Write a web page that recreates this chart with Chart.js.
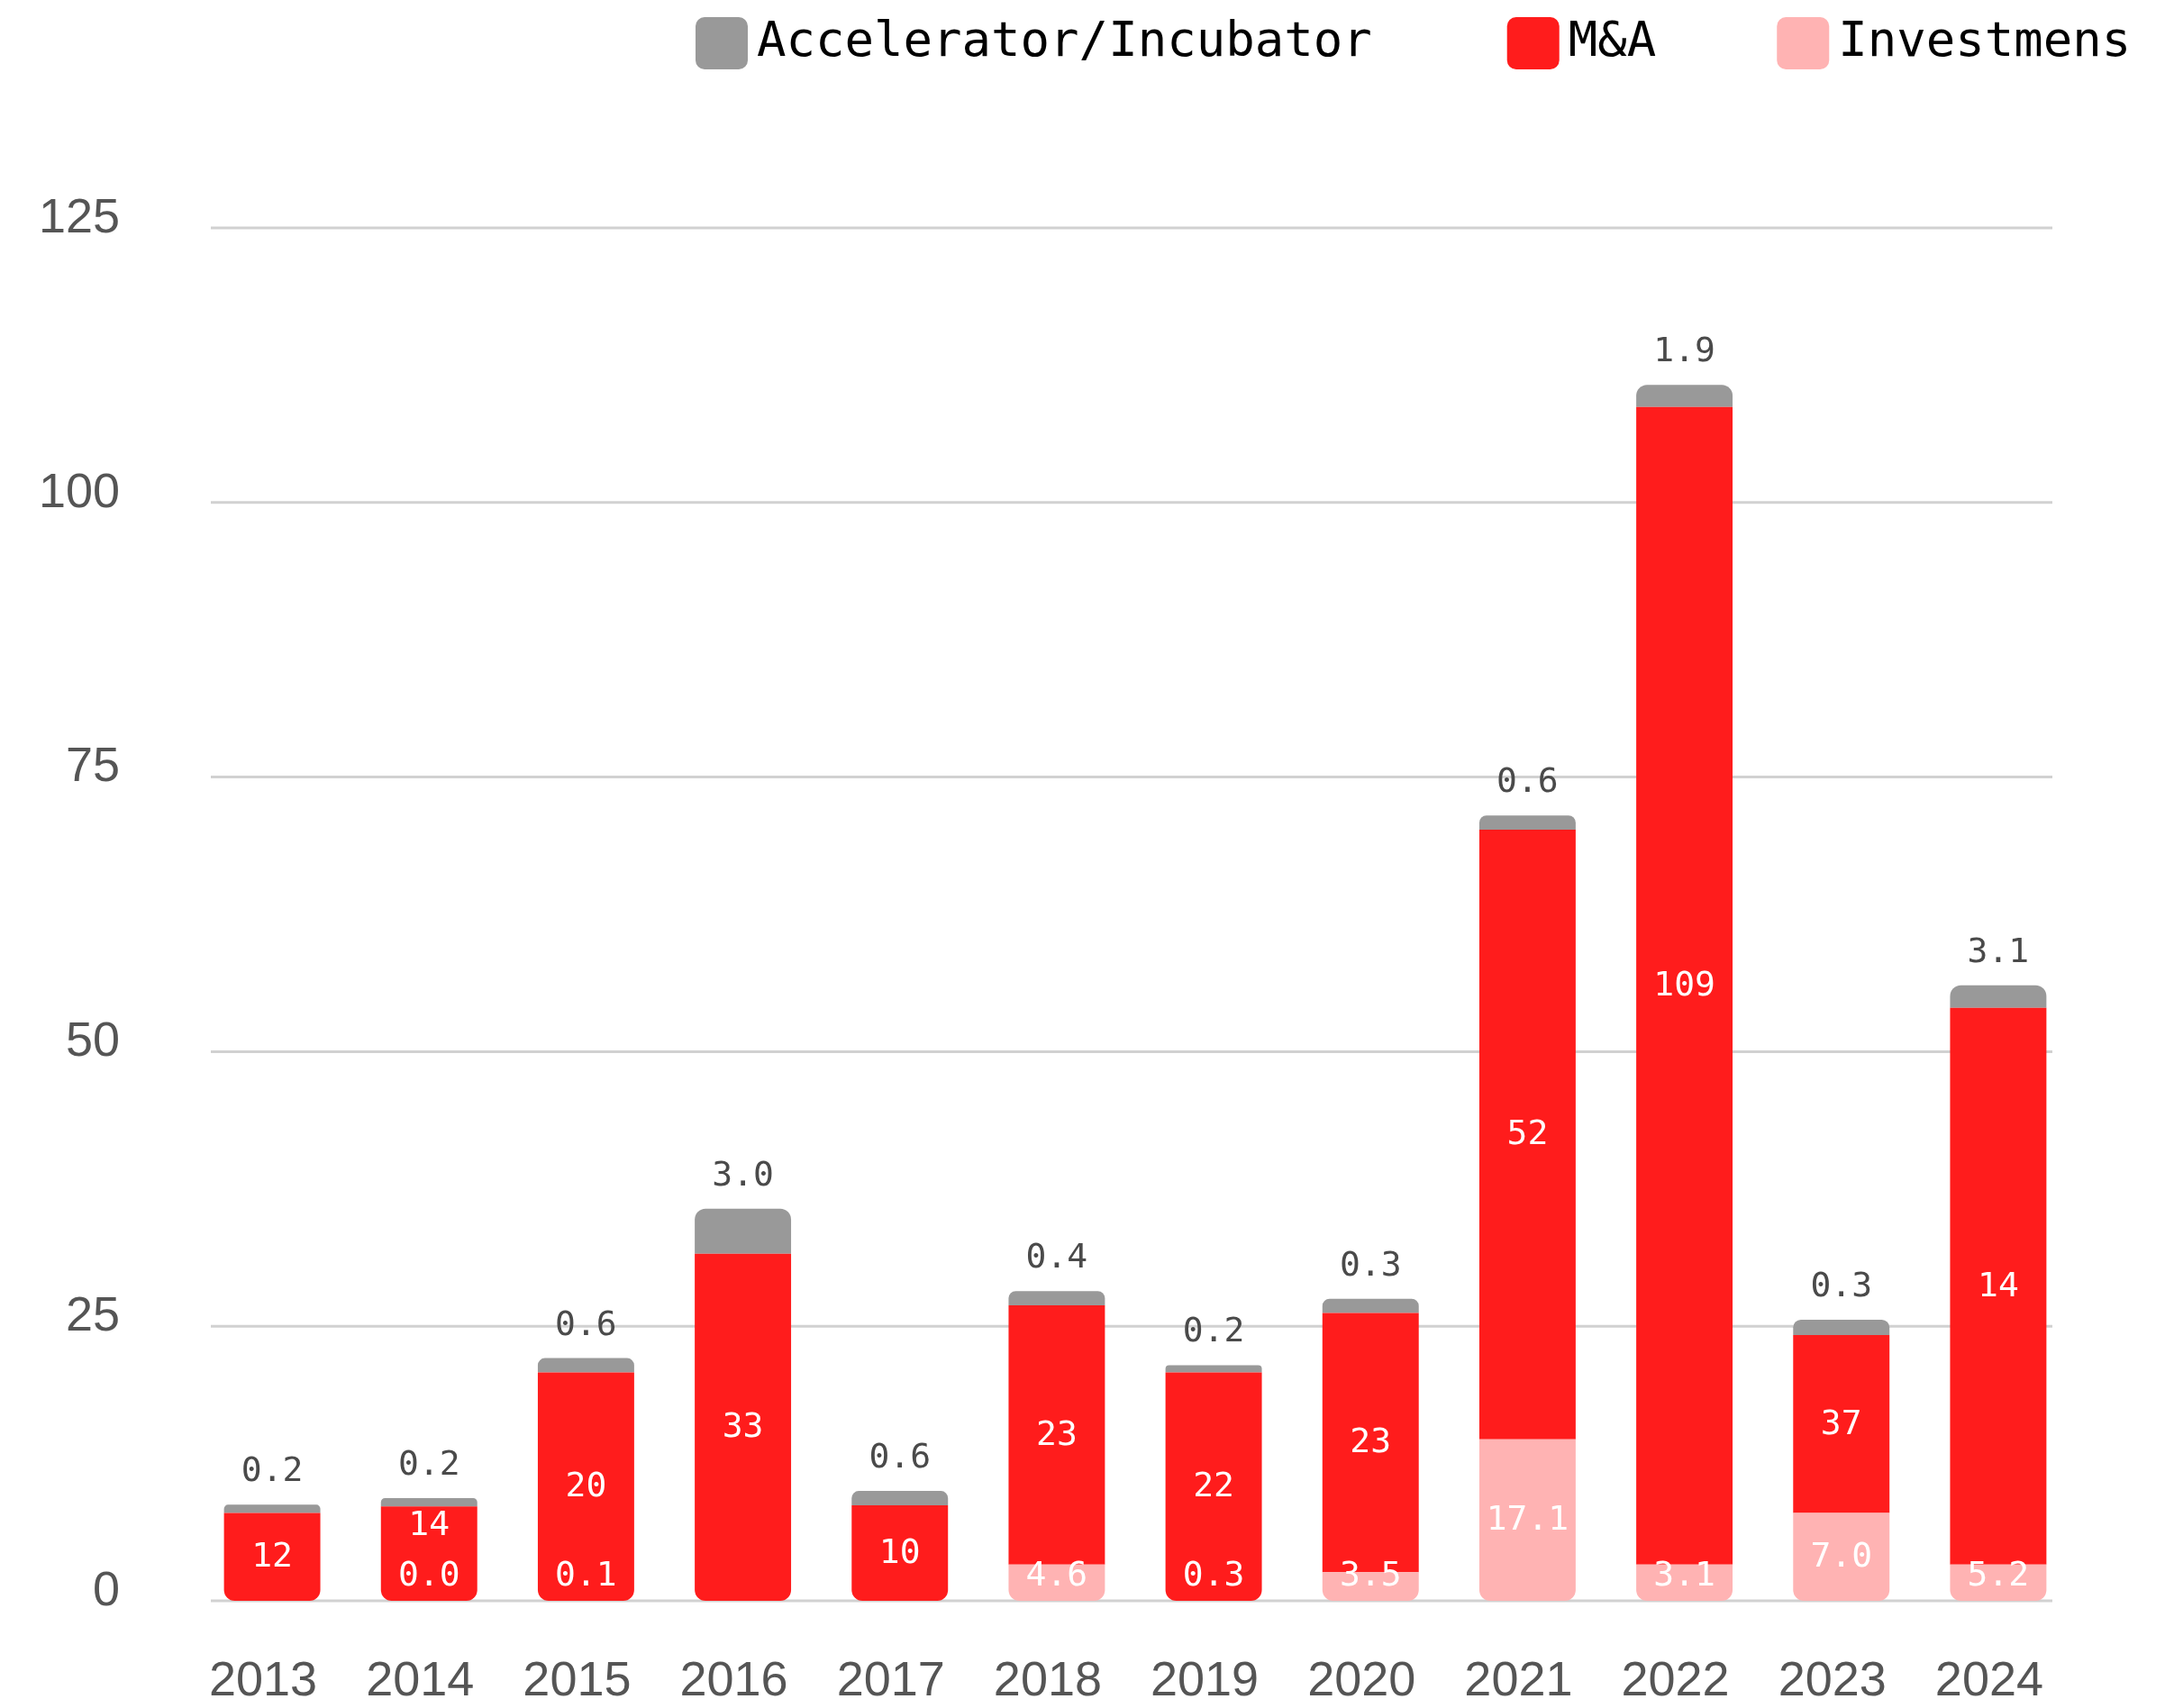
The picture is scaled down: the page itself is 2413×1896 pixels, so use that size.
<!DOCTYPE html>
<html>
<head>
<meta charset="utf-8">
<script src="https://cdn.jsdelivr.net/npm/chart.js@4.4.1/dist/chart.umd.min.js"></script>
<style>
  html, body { margin: 0; padding: 0; background: #ffffff; }
  #wrap { position: relative; width: 2413px; height: 1896px; }
</style>
</head>
<body>
<div id="wrap"><canvas id="chart"></canvas></div>
<script>
// Years on the category axis
const years = ['2013', '2014', '2015', '2016', '2017', '2018', '2019', '2020', '2021', '2022', '2023', '2024'];

// Segment heights, stacked bottom to top
const investments = [0, 0, 0, 0, 0, 3.3, 0, 2.6, 14.7, 3.3, 8.0, 3.3];
const mergers = [8.0, 8.6, 20.8, 31.6, 8.7, 23.6, 20.8, 23.6, 55.5, 105.4, 16.2, 50.7];
const accelerator = [0.75, 0.75, 1.3, 4.1, 1.3, 1.3, 0.65, 1.3, 1.3, 2.0, 1.4, 2.05];

// Figures printed on each segment
const investmentLabels = ['', '0.0', '0.1', '', '', '4.6', '0.3', '3.5', '17.1', '3.1', '7.0', '5.2'];
const mergerLabels = ['12', '14', '20', '33', '10', '23', '22', '23', '52', '109', '37', '14'];
const acceleratorLabels = ['0.2', '0.2', '0.6', '3.0', '0.6', '0.4', '0.2', '0.3', '0.6', '1.9', '0.3', '3.1'];

// Value axis
const yMin = 0;
const yMax = 125;
const yStep = 25;

const COLORS = {
  investments: '#ffb3b3',
  mergers: '#ff1c1c',
  accelerator: '#999999',
  grid: '#d1d1d1',
  tick: '#555555',
  topLabel: '#4a4a4a'
};
const MONO = '"DejaVu Sans Mono", "Liberation Mono", monospace';
const SANS = '"Liberation Sans", Arial, sans-serif';
const RADIUS = 12;

// Horizontal grid lines, slightly inset from the plot edges
const insetGrid = {
  id: 'insetGrid',
  beforeDatasetsDraw(chart) {
    const { ctx, chartArea, scales } = chart;
    const y = scales.y;
    ctx.save();
    ctx.strokeStyle = COLORS.grid;
    ctx.lineWidth = 3;
    y.ticks.forEach(t => {
      const py = y.getPixelForValue(t.value);
      ctx.beginPath();
      ctx.moveTo(chartArea.left + 19, py);
      ctx.lineTo(chartArea.right - 27, py);
      ctx.stroke();
    });
    ctx.restore();
  }
};

// Segment figures: white inside the lower two segments, grey above the stack
const segmentLabels = {
  id: 'segmentLabels',
  afterDatasetsDraw(chart) {
    const { ctx } = chart;
    ctx.save();
    ctx.font = '38px ' + MONO;
    ctx.textAlign = 'center';
    ctx.textBaseline = 'alphabetic';
    const capHalf = 11;
    const minGap = 56;
    const lower = chart.getDatasetMeta(0);
    const middle = chart.getDatasetMeta(1);
    const upper = chart.getDatasetMeta(2);
    ctx.fillStyle = '#ffffff';
    lower.data.forEach((bar, i) => {
      const { x, y, base } = bar.getProps(['x', 'y', 'base'], true);
      const lowCy = Math.min((y + base) / 2, base - 28);
      if (investmentLabels[i]) ctx.fillText(investmentLabels[i], x, lowCy + capHalf);
      const mid = middle.data[i].getProps(['x', 'y', 'base'], true);
      let midCy = (mid.y + mid.base) / 2;
      if (investmentLabels[i]) midCy = Math.min(midCy, lowCy - minGap);
      if (mergerLabels[i]) ctx.fillText(mergerLabels[i], mid.x, midCy + capHalf);
    });
    ctx.fillStyle = COLORS.topLabel;
    upper.data.forEach((bar, i) => {
      const text = acceleratorLabels[i];
      if (!text) return;
      const { x, y } = bar.getProps(['x', 'y'], true);
      ctx.fillText(text, x, y - 26);
    });
    ctx.restore();
  }
};

// Legend row across the top, listed from the top segment down
const topLegend = {
  id: 'topLegend',
  afterDraw(chart) {
    const { ctx } = chart;
    const box = 58;
    const textGap = 10;
    const itemGaps = [150, 134];
    let x = 772;
    const boxTop = 19;
    const baseline = 62;
    ctx.save();
    ctx.font = '54px ' + MONO;
    ctx.textAlign = 'left';
    ctx.textBaseline = 'alphabetic';
    [2, 1, 0].forEach((di, k) => {
      const ds = chart.data.datasets[di];
      ctx.fillStyle = ds.legendColor;
      ctx.beginPath();
      ctx.roundRect(x, boxTop, box, box, 10);
      ctx.fill();
      ctx.fillStyle = '#000000';
      const tx = x + box + textGap;
      ctx.fillText(ds.label, tx, baseline);
      x = tx + ctx.measureText(ds.label).width + (itemGaps[k] || 0);
    });
    ctx.restore();
  }
};

const bottomRound = { topLeft: 0, topRight: 0, bottomLeft: RADIUS, bottomRight: RADIUS };
const topRound = { topLeft: RADIUS, topRight: RADIUS, bottomLeft: 0, bottomRight: 0 };

new Chart(document.getElementById('chart'), {
  type: 'bar',
  data: {
    labels: years,
    datasets: [
      {
        label: 'Investmens',
        data: investments,
        legendColor: COLORS.investments,
        backgroundColor: c => investments[c.dataIndex] > 0 ? COLORS.investments : 'rgba(0,0,0,0)',
        borderRadius: bottomRound
      },
      {
        label: 'M&A',
        data: mergers,
        legendColor: COLORS.mergers,
        backgroundColor: COLORS.mergers,
        borderRadius: c => investments[c.dataIndex] > 0 ? 0 : bottomRound
      },
      {
        label: 'Accelerator/Incubator',
        data: accelerator,
        legendColor: COLORS.accelerator,
        backgroundColor: COLORS.accelerator,
        borderRadius: topRound
      }
    ]
  },
  options: {
    responsive: true,
    maintainAspectRatio: false,
    animation: false,
    events: [],
    layout: { padding: { top: 253, right: 108, bottom: 0, left: 0 } },
    datasets: {
      bar: {
        borderWidth: 0,
        borderSkipped: false,
        barPercentage: 0.614,
        categoryPercentage: 1
      }
    },
    plugins: {
      legend: { display: false },
      tooltip: { enabled: false },
      title: { display: false }
    },
    scales: {
      x: {
        stacked: true,
        grid: { display: false, drawTicks: false },
        border: { display: false },
        ticks: {
          color: COLORS.tick,
          font: { family: SANS, size: 54 },
          padding: 58,
          labelOffset: -10,
          maxRotation: 0,
          autoSkip: false
        },
        afterFit(scale) { scale.height = 119; }
      },
      y: {
        stacked: true,
        min: yMin,
        max: yMax,
        grid: { display: false, drawTicks: false },
        border: { display: false },
        ticks: {
          stepSize: yStep,
          color: COLORS.tick,
          font: { family: SANS, size: 54 },
          padding: 82,
          labelOffset: -10
        },
        afterFit(scale) { scale.width = 215; }
      }
    }
  },
  plugins: [insetGrid, segmentLabels, topLegend]
});
</script>
</body>
</html>
